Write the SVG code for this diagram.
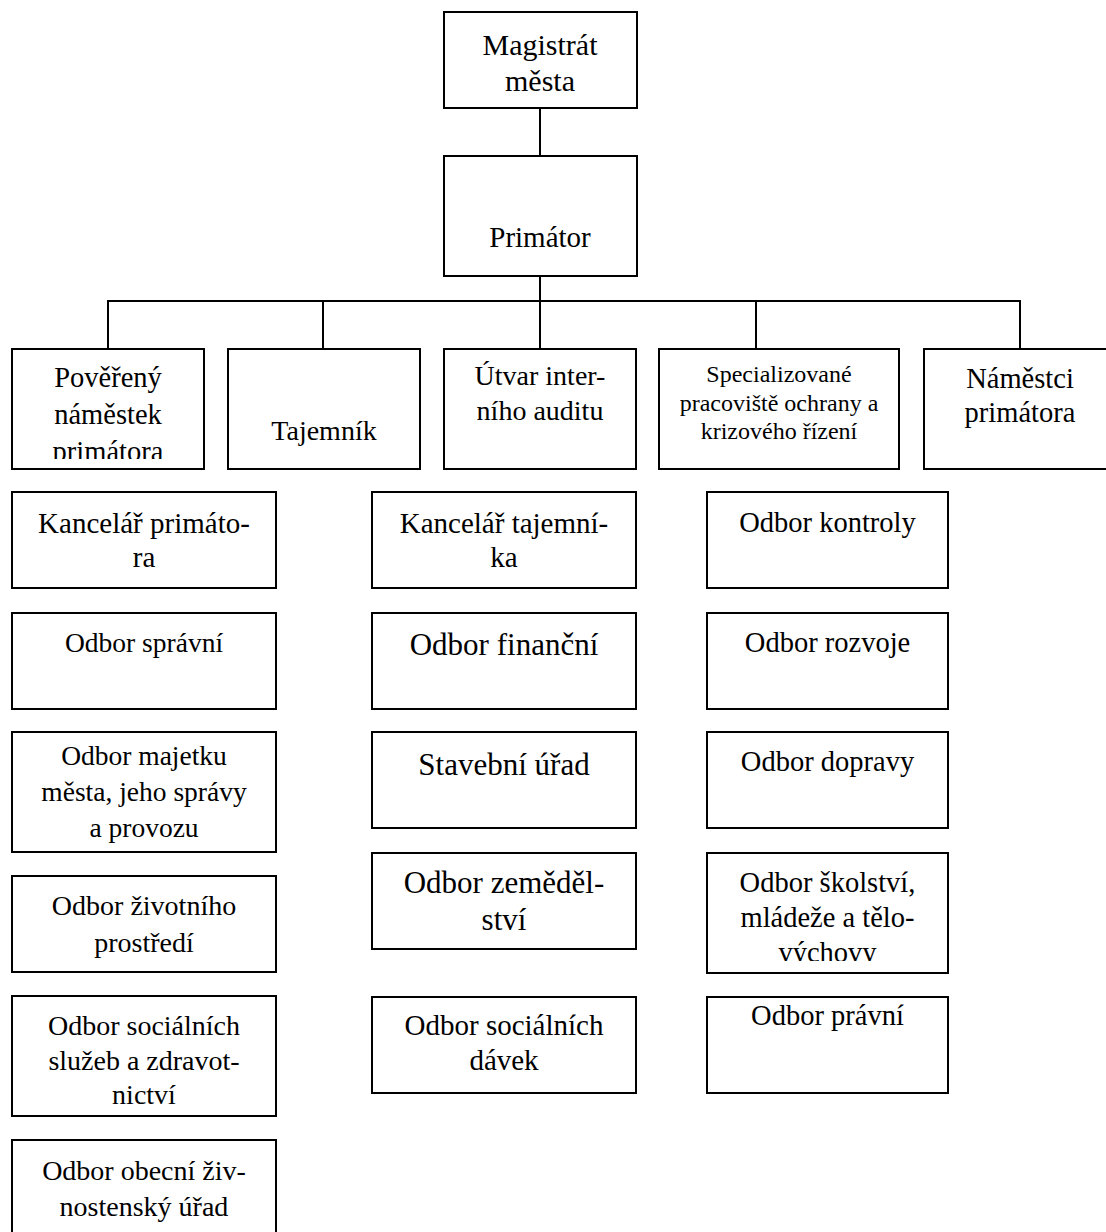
<svg xmlns="http://www.w3.org/2000/svg" width="1106" height="1232" viewBox="0 0 1106 1232">
<style>
.box{fill:#fff;stroke:#000;stroke-width:2}
.ln{stroke:#000;stroke-width:2;fill:none}
text{font-family:Liberation Serif, Tinos, Times New Roman, Times, DejaVu Serif, Noto Serif, FreeSerif, serif;fill:#000;text-anchor:middle}
</style>
<defs>
<clipPath id="clipPov"><rect x="12" y="349" width="192" height="110"/></clipPath>
<clipPath id="clipSkol"><rect x="707" y="853" width="241" height="108"/></clipPath>
</defs>
<rect width="1106" height="1232" fill="#fff"/>
<g id="connectors">
<line class="ln" x1="540" y1="108" x2="540" y2="156"/>
<line class="ln" x1="540" y1="276" x2="540" y2="349"/>
<line class="ln" x1="107" y1="301" x2="1021" y2="301"/>
<line class="ln" x1="108" y1="301" x2="108" y2="349"/>
<line class="ln" x1="323" y1="301" x2="323" y2="349"/>
<line class="ln" x1="756" y1="301" x2="756" y2="349"/>
<line class="ln" x1="1020" y1="301" x2="1020" y2="349"/>
</g>
<g id="magistrat"><rect class="box" x="444" y="12" width="193" height="96"/>
<text x="540" y="55" font-size="30">Magistrát</text><text x="540" y="91" font-size="30">města</text></g>
<g id="primator"><rect class="box" x="444" y="156" width="193" height="120"/>
<text x="540" y="247" font-size="29">Primátor</text></g>
<g id="povereny"><rect class="box" x="12" y="349" width="192" height="120"/>
<g clip-path="url(#clipPov)" font-size="28.5"><text x="108" y="387">Pověřený</text><text x="108" y="424">náměstek</text><text x="108" y="461">primátora</text></g></g>
<g id="tajemnik"><rect class="box" x="228" y="349" width="192" height="120"/>
<text x="324" y="440" font-size="28">Tajemník</text></g>
<g id="utvar"><rect class="box" x="444" y="349" width="192" height="120"/>
<text x="540" y="385" font-size="28">Útvar inter-</text><text x="540" y="420" font-size="28">ního auditu</text></g>
<g id="specializovane"><rect class="box" x="659" y="349" width="240" height="120"/>
<text x="779" y="382" font-size="24">Specializované</text><text x="779" y="411" font-size="24">pracoviště ochrany a</text><text x="779" y="439" font-size="24">krizového řízení</text></g>
<g id="namestci"><rect class="box" x="924" y="349" width="200" height="120"/>
<text x="1020" y="388" font-size="28.5">Náměstci</text><text x="1020" y="422" font-size="28.5">primátora</text></g>
<g id="kancelar-primatora"><rect class="box" x="12" y="492" width="264" height="96"/>
<text x="144" y="533" font-size="29">Kancelář primáto-</text><text x="144" y="567" font-size="29">ra</text></g>
<g id="odbor-spravni"><rect class="box" x="12" y="613" width="264" height="96"/>
<text x="144" y="652" font-size="27.5">Odbor správní</text></g>
<g id="odbor-majetku"><rect class="box" x="12" y="732" width="264" height="120"/>
<text x="144" y="765" font-size="27.5">Odbor majetku</text><text x="144" y="801" font-size="27.5">města, jeho správy</text><text x="144" y="837" font-size="27.5">a provozu</text></g>
<g id="odbor-zivotniho"><rect class="box" x="12" y="876" width="264" height="96"/>
<text x="144" y="915" font-size="28">Odbor životního</text><text x="144" y="952" font-size="28">prostředí</text></g>
<g id="odbor-socialnich-sluzeb"><rect class="box" x="12" y="996" width="264" height="120"/>
<text x="144" y="1035" font-size="28">Odbor sociálních</text><text x="144" y="1070" font-size="28">služeb a zdravot-</text><text x="144" y="1104" font-size="28">nictví</text></g>
<g id="odbor-obecni"><rect class="box" x="12" y="1140" width="264" height="100"/>
<text x="144" y="1180" font-size="28">Odbor obecní živ-</text><text x="144" y="1216" font-size="28">nostenský úřad</text></g>
<g id="kancelar-tajemnika"><rect class="box" x="372" y="492" width="264" height="96"/>
<text x="504" y="533" font-size="29">Kancelář tajemní-</text><text x="504" y="567" font-size="29">ka</text></g>
<g id="odbor-financni"><rect class="box" x="372" y="613" width="264" height="96"/>
<text x="504" y="655" font-size="31">Odbor finanční</text></g>
<g id="stavebni-urad"><rect class="box" x="372" y="732" width="264" height="96"/>
<text x="504" y="775" font-size="31">Stavební úřad</text></g>
<g id="odbor-zemedelstvi"><rect class="box" x="372" y="853" width="264" height="96"/>
<text x="504" y="893" font-size="31">Odbor zeměděl-</text><text x="504" y="930" font-size="31">ství</text></g>
<g id="odbor-socialnich-davek"><rect class="box" x="372" y="997" width="264" height="96"/>
<text x="504" y="1035" font-size="29">Odbor sociálních</text><text x="504" y="1070" font-size="29">dávek</text></g>
<g id="odbor-kontroly"><rect class="box" x="707" y="492" width="241" height="96"/>
<text x="827.5" y="532" font-size="28.5">Odbor kontroly</text></g>
<g id="odbor-rozvoje"><rect class="box" x="707" y="613" width="241" height="96"/>
<text x="827.5" y="652" font-size="28.5">Odbor rozvoje</text></g>
<g id="odbor-dopravy"><rect class="box" x="707" y="732" width="241" height="96"/>
<text x="827.5" y="771" font-size="28.5">Odbor dopravy</text></g>
<g id="odbor-skolstvi"><rect class="box" x="707" y="853" width="241" height="120"/>
<g clip-path="url(#clipSkol)" font-size="28.5"><text x="827.5" y="892">Odbor školství,</text><text x="827.5" y="927">mládeže a tělo-</text><text x="827.5" y="962">výchovy</text></g></g>
<g id="odbor-pravni"><rect class="box" x="707" y="997" width="241" height="96"/>
<text x="827.5" y="1025" font-size="28.5">Odbor právní</text></g>
</svg>
